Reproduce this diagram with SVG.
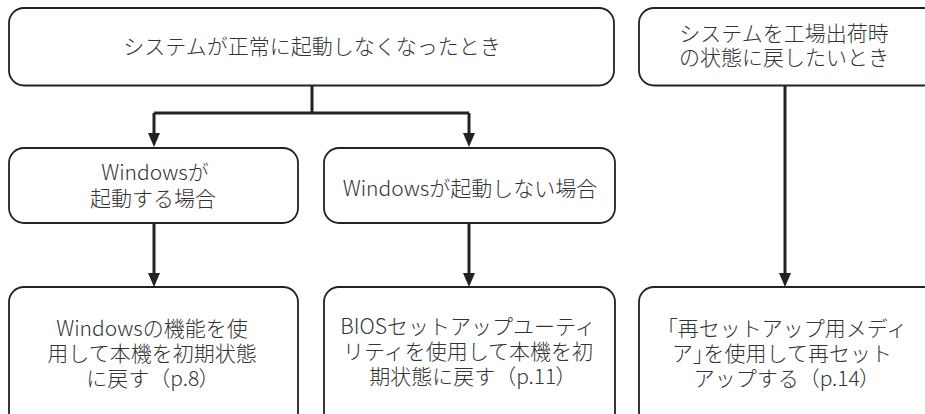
<svg xmlns="http://www.w3.org/2000/svg" width="925" height="414" viewBox="0 0 925 414">
<style>
.box{fill:#fff;stroke:#222;stroke-width:1.8}
.t{font-family:"Noto Sans CJK JP","Noto Sans",sans-serif;font-size:21px;font-weight:300;fill:#333;text-anchor:middle}
.p{font-feature-settings:"palt"}
.c{fill:none;stroke:#222;stroke-width:3}
.ah{fill:#222}
</style>
<rect width="925" height="414" fill="#fff"/>
<g id="connectors">
<path class="c" d="M312,86 V113"/>
<path class="c" d="M154,113 H469"/>
<path class="c" d="M154,113 V134"/>
<path class="ah" d="M148,133 L160,133 L154,147 Z"/>
<path class="c" d="M469,113 V134"/>
<path class="ah" d="M463,133 L475,133 L469,147 Z"/>
<path class="c" d="M154,223 V274"/>
<path class="ah" d="M148,273 L160,273 L154,287 Z"/>
<path class="c" d="M469,223 V274"/>
<path class="ah" d="M463,273 L475,273 L469,287 Z"/>
<path class="c" d="M785,86 V274"/>
<path class="ah" d="M779,273 L791,273 L785,287 Z"/>
</g>
<g id="n1">
<rect class="box" x="9" y="8" width="605" height="77.5" rx="15"/>
<text class="t" x="312" y="54">システムが正常に起動しなくなったとき</text>
</g>
<g id="n2">
<rect class="box" x="639" y="8" width="300" height="77.5" rx="15"/>
<text class="t" x="784" y="41">システムを工場出荷時</text>
<text class="t" x="784" y="65">の状態に戻したいとき</text>
</g>
<g id="n3">
<rect class="box" x="9" y="148" width="289" height="75" rx="15"/>
<text class="t" x="155" y="180">Windowsが</text>
<text class="t" x="153" y="206">起動する場合</text>
</g>
<g id="n4">
<rect class="box" x="324" y="148" width="291" height="75" rx="15"/>
<text class="t" x="470" y="196">Windowsが起動しない場合</text>
</g>
<g id="n5">
<rect class="box" x="9" y="287" width="289" height="140" rx="15"/>
<text class="t" x="152" y="336">Windowsの機能を使</text>
<text class="t" x="152" y="361">用して本機を初期状態</text>
<text class="t" x="148" y="386">に戻す（p.8<tspan class="p">）</tspan></text>
</g>
<g id="n6">
<rect class="box" x="324" y="287" width="291" height="140" rx="15"/>
<text class="t" x="468" y="334">BIOSセットアップユーティ</text>
<text class="t" x="468" y="359">リティを使用して本機を初</text>
<text class="t" x="468" y="384">期状態に戻す（p.11<tspan class="p">）</tspan></text>
</g>
<g id="n7">
<rect class="box" x="639" y="287" width="300" height="140" rx="15"/>
<text class="t" x="782" y="336">「再セットアップ用メディ</text>
<text class="t" x="782" y="361">ア<tspan class="p">」</tspan>を使用して再セット</text>
<text class="t" x="782" y="386">アップする（p.14<tspan class="p">）</tspan></text>
</g>
</svg>
